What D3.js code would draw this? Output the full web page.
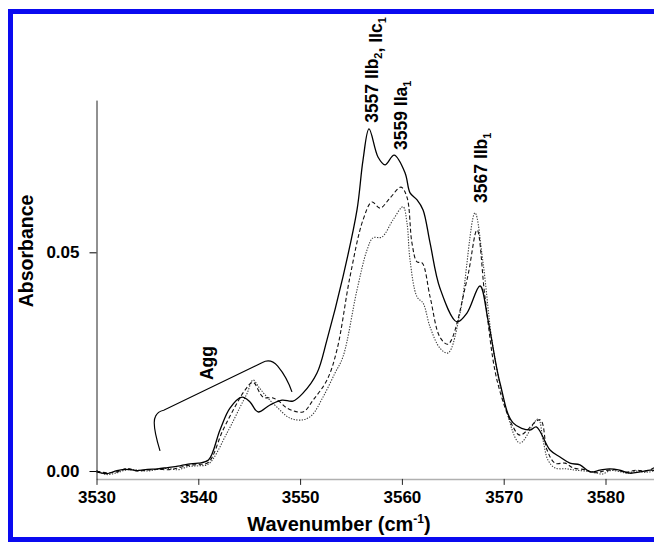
<!DOCTYPE html>
<html>
<head>
<meta charset="utf-8">
<script src="https://cdn.jsdelivr.net/npm/d3@7"></script>
<style>
  body { margin: 0; background: #fff; }
  svg { display: block; font-family: "Liberation Sans", Arial, sans-serif; font-weight: bold; }
</style>
</head>
<body>
<svg id="chart" width="654" height="542"></svg>
<script>
// tick labels
const xTicks = [3530, 3540, 3550, 3560, 3570, 3580];
const yTicks = [0.00, 0.05];

// solid trace
const solidWn = [3530, 3531, 3532, 3533, 3534, 3535, 3536, 3537, 3538, 3539, 3540, 3541,
  3542.13, 3543.11, 3544.29, 3545.08, 3545.86, 3547.04, 3548.22, 3549.3, 3550.28, 3551.66,
  3552.64, 3554.21, 3555.59, 3556.18, 3556.77, 3557.65, 3558.34, 3559.24, 3560.32, 3560.8,
  3561.49, 3562.08, 3562.77, 3563.74, 3565.41, 3566.39, 3567.67, 3568.46, 3569.64, 3570.92,
  3572.59, 3573.2, 3574.55, 3575.53, 3576.51, 3577.49, 3578.48, 3579.46, 3580.4, 3581.4,
  3582.4, 3583.4, 3584.4, 3585];
const solidAbs = [-0.0002, -0.0006, 0.0001, 0.0004, 0.0001, 0.0004, 0.0005, 0.0008, 0.0011, 0.0016, 0.0018, 0.0025,
  0.0094, 0.0144, 0.0169, 0.0158, 0.0135, 0.0151, 0.0162, 0.0160, 0.0178, 0.0224,
  0.0300, 0.0444, 0.0597, 0.0711, 0.0782, 0.0718, 0.0700, 0.0722, 0.0681, 0.0636,
  0.0620, 0.0597, 0.0521, 0.0418, 0.0341, 0.0361, 0.0423, 0.0345, 0.0201, 0.0110,
  0.0094, 0.0101, 0.0048, 0.0032, 0.0018, 0.0014, -0.0002, 0.0002, 0.0005, 0.0002,
  -0.0005, -0.0002, 0.0002, 0.0001];

// dashed trace
const dashedWn = [3530, 3531, 3532, 3533, 3534, 3535, 3536, 3537, 3538, 3539, 3540, 3541,
  3542.43, 3543.8, 3544.59, 3545.37, 3546.36, 3547.34, 3548.0, 3548.71, 3550.28, 3551.27,
  3552.64, 3553.62, 3554.9, 3556.18, 3557.06, 3557.85, 3558.83, 3559.91, 3560.5, 3560.99,
  3561.49, 3561.98, 3562.77, 3563.74, 3564.53, 3566.39, 3567.38, 3568.16, 3569.34, 3570.92,
  3571.6, 3573.57, 3574.26, 3575.05, 3576.03, 3576.82, 3578, 3579, 3580, 3581,
  3582, 3583, 3584, 3585];
const dashedAbs = [0.0000, -0.0004, -0.0002, 0.0006, 0.0000, 0.0002, 0.0004, 0.0003, 0.0007, 0.0013, 0.0015, 0.0020,
  0.0094, 0.0155, 0.0185, 0.0203, 0.0169, 0.0167, 0.0158, 0.0144, 0.0135, 0.0162,
  0.0208, 0.0277, 0.0444, 0.0574, 0.0615, 0.0601, 0.0624, 0.0649, 0.0626, 0.0521,
  0.0478, 0.0476, 0.0398, 0.0306, 0.0290, 0.0437, 0.0551, 0.0398, 0.0208, 0.0101,
  0.0082, 0.0117, 0.0048, 0.0018, 0.0018, 0.0007, 0.0003, -0.0004, 0.0001, 0.0003,
  -0.0003, 0.0002, 0.0000, 0.0010];

// dotted trace
const dottedWn = [3530, 3531, 3532, 3533, 3534, 3535, 3536, 3537, 3538, 3539, 3540, 3541,
  3542.82, 3544.1, 3544.8, 3545.37, 3546.0, 3546.75, 3547.73, 3549.0, 3550.28, 3551.17,
  3552.25, 3553.43, 3554.21, 3555.59, 3556.57, 3557.16, 3558.04, 3559.12, 3560.11, 3560.5,
  3560.8, 3561.49, 3562.08, 3562.77, 3563.74, 3564.53, 3565.71, 3567.18, 3567.97, 3568.95,
  3570.33, 3571.6, 3573.37, 3573.86, 3574.35, 3575.05, 3576.2, 3577, 3578, 3579,
  3579.66, 3580.5, 3581.5, 3582.1, 3583, 3584, 3585];
const dottedAbs = [0.0001, -0.0008, -0.0004, 0.0003, 0.0002, 0.0000, 0.0004, 0.0006, 0.0003, 0.0010, 0.0012, 0.0016,
  0.0087, 0.0146, 0.0178, 0.0208, 0.0190, 0.0169, 0.0146, 0.0121, 0.0117, 0.0128,
  0.0169, 0.0224, 0.0261, 0.0414, 0.0505, 0.0533, 0.0535, 0.0574, 0.0604, 0.0567,
  0.0482, 0.0398, 0.0384, 0.0329, 0.0281, 0.0270, 0.0361, 0.0590, 0.0476, 0.0283,
  0.0133, 0.0064, 0.0119, 0.0071, 0.0025, 0.0007, 0.0005, 0.0002, 0.0000, -0.0003,
  -0.0007, 0.0001, -0.0002, -0.0005, 0.0000, -0.0003, 0.0002];

const svg = d3.select('#chart');

// Scales
const x = d3.scaleLinear().domain([3530, 3585]).range([96.5, 656.4]);
const y = d3.scaleLinear().domain([-0.0018, 0.0848]).range([478.9, 100.1]);

// Clip so the traces stop at the frame
svg.append('clipPath').attr('id', 'plot-clip')
  .append('rect').attr('x', 96).attr('y', 90).attr('width', 560).attr('height', 392);

// Axes
const xAxis = svg.append('g')
  .attr('transform', `translate(0,${y(-0.0018)})`)
  .call(d3.axisBottom(x).tickValues(xTicks).tickSize(6).tickPadding(6).tickSizeOuter(0).tickFormat(d3.format('d')));
xAxis.select('.domain').attr('stroke', '#b0b0b0').attr('stroke-width', 1.5);
xAxis.selectAll('.tick line').attr('stroke', '#222');
xAxis.selectAll('text').attr('font-size', 17).attr('font-family', null).attr('fill', '#000');

const yAxis = svg.append('g')
  .attr('transform', `translate(${x(3530)},0)`)
  .call(d3.axisLeft(y).tickValues(yTicks).tickSize(7).tickPadding(10).tickSizeOuter(0).tickFormat(d3.format('.2f')));
yAxis.select('.domain').attr('stroke', '#222');
yAxis.selectAll('text').attr('font-size', 17).attr('font-family', null).attr('fill', '#000');

// Traces
const line = d3.line().curve(d3.curveCatmullRom.alpha(0.5));
const traces = [
  { wn: dottedWn, abs: dottedAbs, stroke: '#3a3a3a', width: 1.1, dash: '1.3,1.4' },
  { wn: dashedWn, abs: dashedAbs, stroke: '#111', width: 1.1, dash: '4,2.5' },
  { wn: solidWn, abs: solidAbs, stroke: '#000', width: 1.3, dash: null }
];
const plot = svg.append('g').attr('clip-path', 'url(#plot-clip)');
traces.forEach(t => {
  plot.append('path')
    .attr('d', line(t.wn.map((w, i) => [x(w), y(t.abs[i])])))
    .attr('fill', 'none')
    .attr('stroke', t.stroke)
    .attr('stroke-width', t.width)
    .attr('stroke-dasharray', t.dash);
});

// Agg bracket
const br = d3.path();
br.moveTo(x(3536.24), y(0.0046));
br.quadraticCurveTo(x(3535.4), y(0.0110), x(3535.8), y(0.0125));
br.quadraticCurveTo(x(3536.0), y(0.0136), x(3536.6), y(0.0139));
br.lineTo(x(3546.3), y(0.0248));
br.quadraticCurveTo(x(3547.1), y(0.0258), x(3547.8), y(0.0240));
br.quadraticCurveTo(x(3548.7), y(0.0215), x(3549.2), y(0.0181));
svg.append('path').attr('d', br.toString())
  .attr('fill', 'none').attr('stroke', '#000').attr('stroke-width', 1.2);

// Rotated labels
function vlabel(w, a, parts) {
  const t = svg.append('text')
    .attr('transform', `translate(${x(w)},${y(a)}) rotate(-90)`)
    .attr('font-size', 17.5);
  parts.forEach(p => {
    if (p.sub) {
      t.append('tspan').attr('font-size', 11).attr('dy', 4).text(p.sub);
      t.append('tspan').attr('dy', -4).text('');
    } else {
      t.append('tspan').text(p.t);
    }
  });
  return t;
}
vlabel(3557.65, 0.0796, [{ t: '3557 IIb' }, { sub: '2' }, { t: ', IIc' }, { sub: '1' }]);
vlabel(3560.5, 0.0734, [{ t: '3559 IIa' }, { sub: '1' }]);
vlabel(3568.36, 0.0613, [{ t: '3567 IIb' }, { sub: '1' }]);
vlabel(3541.44, 0.0208, [{ t: 'Agg' }]);

// Axis titles
svg.append('text')
  .attr('transform', 'translate(33,251) rotate(-90)')
  .attr('text-anchor', 'middle')
  .attr('font-size', 19.5)
  .text('Absorbance');

const xt = svg.append('text')
  .attr('x', 339).attr('y', 531)
  .attr('text-anchor', 'middle')
  .attr('font-size', 20);
xt.append('tspan').text('Wavenumber (cm');
xt.append('tspan').attr('font-size', 12).attr('dy', -8).text('-1');
xt.append('tspan').attr('dy', 8).text(')');

// Blue frame
svg.append('rect')
  .attr('x', 10.5).attr('y', 11.5)
  .attr('width', 700).attr('height', 528)
  .attr('fill', 'none')
  .attr('stroke', '#0a0af0')
  .attr('stroke-width', 5);
</script>
</body>
</html>
